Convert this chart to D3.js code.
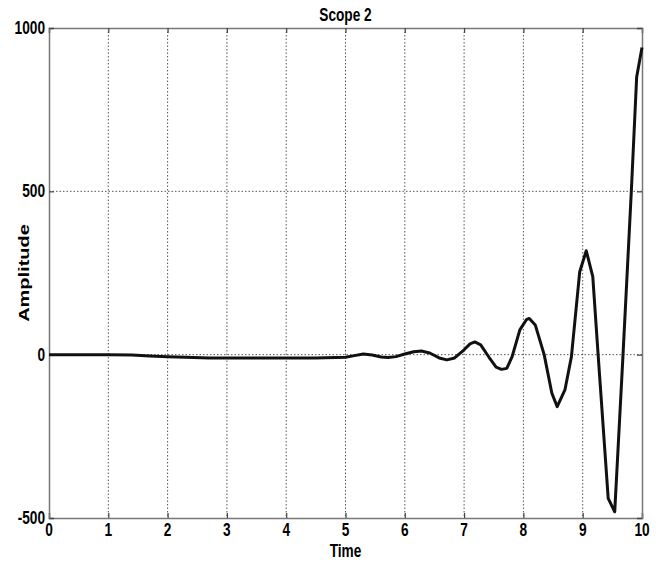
<!DOCTYPE html>
<html>
<head>
<meta charset="utf-8">
<script src="https://cdn.jsdelivr.net/npm/d3@7"></script>
<style>
  html, body { margin: 0; padding: 0; background: #fff; }
  svg { display: block; }
  text { font-family: "Liberation Sans", Arial, Helvetica, sans-serif; font-weight: bold; fill: #000; }
</style>
</head>
<body>
<svg id="chart" width="659" height="563"></svg>
<script>
const title = "Scope 2";
const xLabel = "Time";
const yLabel = "Amplitude";
const xTicks = [0, 1, 2, 3, 4, 5, 6, 7, 8, 9, 10];
const yTicks = [-500, 0, 500, 1000];
const timeValues = [0, 0.5, 1.0, 1.4, 1.7, 2.0, 2.3, 2.7, 3.0, 3.5, 4.0, 4.5, 5.0, 5.15, 5.3, 5.45, 5.6, 5.72, 5.85, 6.0, 6.15, 6.28, 6.42, 6.58, 6.71, 6.84, 7.0, 7.1, 7.18, 7.28, 7.42, 7.54, 7.63, 7.72, 7.81, 7.94, 8.05, 8.1, 8.2, 8.35, 8.48, 8.57, 8.7, 8.81, 8.95, 9.06, 9.17, 9.26, 9.43, 9.54, 9.68, 9.82, 9.91, 10.0];
const amplitudeValues = [0, 0, 0, -1, -4, -6, -8, -10, -10, -10, -10, -10, -8, -3, 2, -1, -7, -9, -6, 2, 9, 11, 5, -10, -16, -10, 15, 33, 39, 30, -8, -38, -45, -42, -6, 76, 107, 111, 91, 0, -118, -159, -108, -6, 254, 318, 239, 0, -440, -481, 0, 500, 850, 940];

const W = 659, H = 563;
const m = { left: 49, right: 17, top: 28, bottom: 45 };
const FS = 19, SX = 0.72;
const svg = d3.select("#chart");

const x = d3.scaleLinear().domain([0, 10]).range([m.left, W - m.right]);
const y = d3.scaleLinear().domain([-500, 1000]).range([H - m.bottom, m.top]);

// grid
const g = svg.append("g");
g.selectAll(".vg").data(xTicks.slice(1, -1)).enter().append("line")
  .attr("x1", d => x(d)).attr("x2", d => x(d))
  .attr("y1", y(1000)).attr("y2", y(-500))
  .attr("stroke", "#555").attr("stroke-width", 1).attr("stroke-dasharray", "1.5,2");
g.selectAll(".hg").data(yTicks.slice(1, -1)).enter().append("line")
  .attr("x1", x(0)).attr("x2", x(10))
  .attr("y1", d => y(d)).attr("y2", d => y(d))
  .attr("stroke", "#555").attr("stroke-width", 1).attr("stroke-dasharray", "1.5,2");

// axes (tick marks and frame)
function styleAxis(sel) {
  sel.select(".domain").attr("stroke", "#777").attr("stroke-width", 1.5);
  sel.selectAll(".tick line").attr("stroke", "#444").attr("stroke-width", 1.2);
}
svg.append("g").attr("transform", `translate(0,${y(-500)})`)
  .call(d3.axisBottom(x).tickValues(xTicks).tickSize(-5).tickFormat("")).call(styleAxis);
svg.append("g").attr("transform", `translate(0,${y(1000)})`)
  .call(d3.axisTop(x).tickValues(xTicks).tickSize(-5).tickFormat("")).call(styleAxis);
svg.append("g").attr("transform", `translate(${x(0)},0)`)
  .call(d3.axisLeft(y).tickValues(yTicks).tickSize(-5).tickFormat("")).call(styleAxis);
svg.append("g").attr("transform", `translate(${x(10)},0)`)
  .call(d3.axisRight(y).tickValues(yTicks).tickSize(-5).tickFormat("")).call(styleAxis);

// tick labels (condensed bold)
svg.append("g").selectAll("text").data(xTicks).enter().append("text")
  .attr("transform", d => `translate(${x(d)},536) scale(${SX},1)`)
  .attr("text-anchor", "middle").style("font-size", FS + "px").text(d => d);
svg.append("g").selectAll("text").data(yTicks).enter().append("text")
  .attr("transform", d => `translate(45,${y(d) + 6}) scale(${SX},1)`)
  .attr("text-anchor", "end").style("font-size", FS + "px").text(d => d);

// line
const data = timeValues.map((t, i) => ({ t, v: amplitudeValues[i] }));
svg.append("path").datum(data)
  .attr("fill", "none").attr("stroke", "#111").attr("stroke-width", 3)
  .attr("stroke-linejoin", "round")
  .attr("d", d3.line().x(d => x(d.t)).y(d => y(d.v)));

// labels
const cx = (x(0) + x(10)) / 2;
svg.append("text").attr("transform", `translate(${cx},21) scale(${SX},1)`)
  .attr("text-anchor", "middle").style("font-size", FS + "px").text(title);
svg.append("text").attr("transform", `translate(${cx},557) scale(${SX},1)`)
  .attr("text-anchor", "middle").style("font-size", FS + "px").text(xLabel);
svg.append("text").attr("transform", `translate(29,${(y(-500) + y(1000)) / 2}) scale(${SX},1) rotate(-90)`)
  .attr("text-anchor", "middle").style("font-size", "20px").text(yLabel);
</script>
</body>
</html>
